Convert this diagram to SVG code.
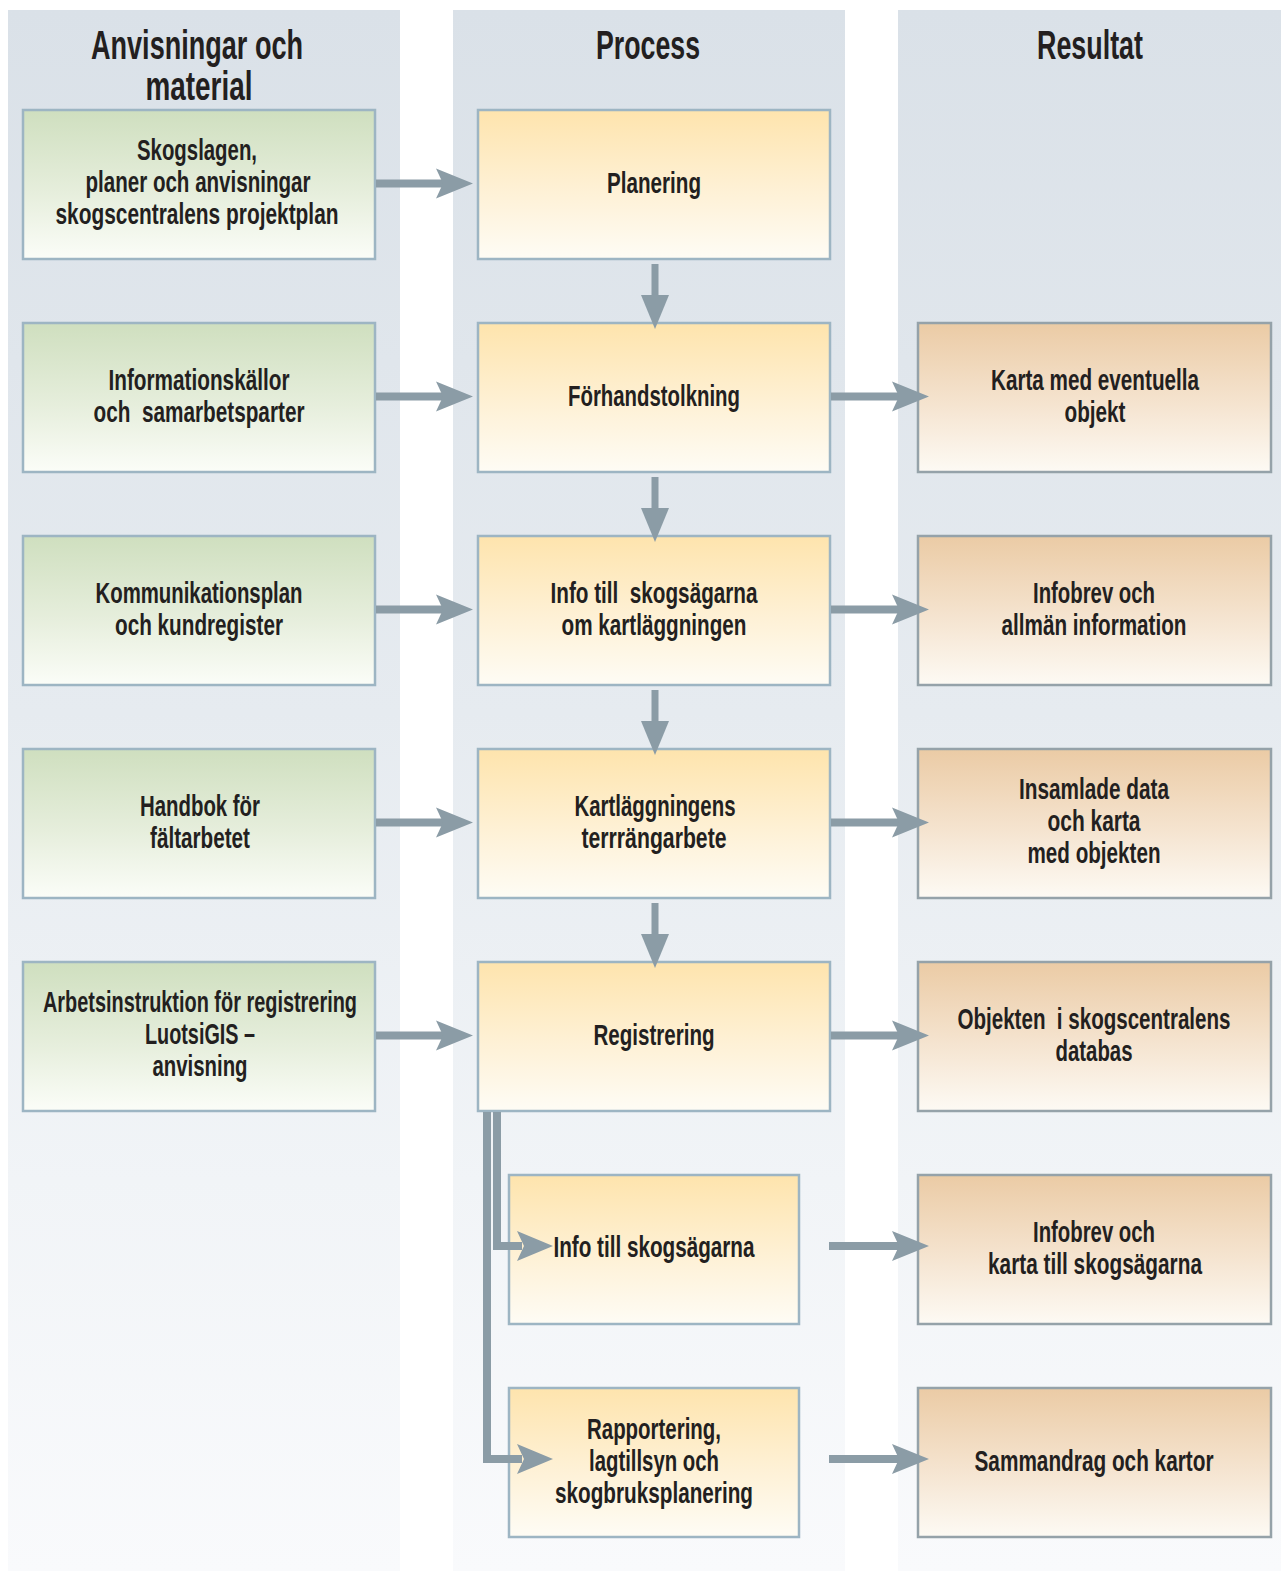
<svg xmlns="http://www.w3.org/2000/svg" width="1281" height="1571" viewBox="0 0 1281 1571">
<defs>
<linearGradient id="colbg" x1="0" y1="0" x2="0" y2="1">
<stop offset="0" stop-color="#dae1e8"/>
<stop offset="0.45" stop-color="#e6ebf0"/>
<stop offset="0.75" stop-color="#f1f4f7"/>
<stop offset="1" stop-color="#f9fafc"/>
</linearGradient>
<linearGradient id="gGreen" x1="0" y1="0" x2="0" y2="1">
<stop offset="0" stop-color="#cfdfbf"/>
<stop offset="0.55" stop-color="#e6eedc"/>
<stop offset="1" stop-color="#fbfdf8"/>
</linearGradient>
<linearGradient id="gYellow" x1="0" y1="0" x2="0" y2="1">
<stop offset="0" stop-color="#fee4ad"/>
<stop offset="0.55" stop-color="#fef1d6"/>
<stop offset="1" stop-color="#fefcf5"/>
</linearGradient>
<linearGradient id="gOrange" x1="0" y1="0" x2="0" y2="1">
<stop offset="0" stop-color="#ebcba5"/>
<stop offset="0.55" stop-color="#f5e4d0"/>
<stop offset="1" stop-color="#fdfaf4"/>
</linearGradient>
</defs>
<style>
.col{fill:url(#colbg)}
.green{fill:url(#gGreen);stroke:#9db5c3;stroke-width:2.5}
.proc{fill:url(#gYellow);stroke:#9db5c3;stroke-width:2.5}
.res{fill:url(#gOrange);stroke:#95a2a9;stroke-width:2.5}
.t{font-family:'Liberation Sans Narrow','Liberation Sans',Arial,sans-serif;font-weight:bold;font-size:30px;fill:#231f20;text-anchor:middle}
.h{font-family:'Liberation Sans Narrow','Liberation Sans',Arial,sans-serif;font-weight:bold;font-size:40px;fill:#231f20;text-anchor:middle}
.shaft{fill:none;stroke:#8b9ca6;stroke-width:8}
.head{fill:#8b9ca6}
</style>
<rect width="1281" height="1571" fill="#ffffff"/>
<g id="columns">
<rect class="col" x="8" y="10" width="392" height="1561"/>
<rect class="col" x="453" y="10" width="392" height="1561"/>
<rect class="col" x="898" y="10" width="383" height="1561"/>
</g>
<g id="headers">
<text class="h" x="197" y="59" textLength="212" lengthAdjust="spacingAndGlyphs">Anvisningar och</text>
<text class="h" x="199" y="100" textLength="107" lengthAdjust="spacingAndGlyphs">material</text>
<text class="h" x="648" y="59" textLength="104" lengthAdjust="spacingAndGlyphs">Process</text>
<text class="h" x="1090" y="59" textLength="106" lengthAdjust="spacingAndGlyphs">Resultat</text>
</g>
<g id="n-skogslagen">
<rect class="green" x="23" y="110" width="352" height="149"/>
<text class="t" x="197" y="160" textLength="120" lengthAdjust="spacingAndGlyphs">Skogslagen,</text>
<text class="t" x="198" y="192" textLength="225" lengthAdjust="spacingAndGlyphs">planer och anvisningar</text>
<text class="t" x="197" y="224" textLength="283" lengthAdjust="spacingAndGlyphs">skogscentralens projektplan</text>
</g>
<g id="n-planering">
<rect class="proc" x="478" y="110" width="352" height="149"/>
<text class="t" x="654" y="193" textLength="94" lengthAdjust="spacingAndGlyphs">Planering</text>
</g>
<g id="n-informationskallor">
<rect class="green" x="23" y="323" width="352" height="149"/>
<text class="t" x="199" y="390" textLength="181" lengthAdjust="spacingAndGlyphs">Informationskällor</text>
<text class="t" x="199" y="422" textLength="211" lengthAdjust="spacingAndGlyphs" xml:space="preserve">och  samarbetsparter</text>
</g>
<g id="n-forhandstolkning">
<rect class="proc" x="478" y="323" width="352" height="149"/>
<text class="t" x="654" y="406" textLength="172" lengthAdjust="spacingAndGlyphs">Förhandstolkning</text>
</g>
<g id="n-karta">
<rect class="res" x="918" y="323" width="353" height="149"/>
<text class="t" x="1095" y="390" textLength="208" lengthAdjust="spacingAndGlyphs">Karta med eventuella</text>
<text class="t" x="1095" y="422" textLength="61" lengthAdjust="spacingAndGlyphs">objekt</text>
</g>
<g id="n-kommunikationsplan">
<rect class="green" x="23" y="536" width="352" height="149"/>
<text class="t" x="199" y="603" textLength="207" lengthAdjust="spacingAndGlyphs">Kommunikationsplan</text>
<text class="t" x="199" y="635" textLength="168" lengthAdjust="spacingAndGlyphs">och kundregister</text>
</g>
<g id="n-info1">
<rect class="proc" x="478" y="536" width="352" height="149"/>
<text class="t" x="654" y="603" textLength="207" lengthAdjust="spacingAndGlyphs" xml:space="preserve">Info till  skogsägarna</text>
<text class="t" x="654" y="635" textLength="185" lengthAdjust="spacingAndGlyphs">om kartläggningen</text>
</g>
<g id="n-infobrev1">
<rect class="res" x="918" y="536" width="353" height="149"/>
<text class="t" x="1094" y="603" textLength="122" lengthAdjust="spacingAndGlyphs">Infobrev och</text>
<text class="t" x="1094" y="635" textLength="185" lengthAdjust="spacingAndGlyphs">allmän information</text>
</g>
<g id="n-handbok">
<rect class="green" x="23" y="749" width="352" height="149"/>
<text class="t" x="200" y="816" textLength="120" lengthAdjust="spacingAndGlyphs">Handbok för</text>
<text class="t" x="200" y="848" textLength="100" lengthAdjust="spacingAndGlyphs">fältarbetet</text>
</g>
<g id="n-kartlaggningens">
<rect class="proc" x="478" y="749" width="352" height="149"/>
<text class="t" x="655" y="816" textLength="161" lengthAdjust="spacingAndGlyphs">Kartläggningens</text>
<text class="t" x="654" y="848" textLength="145" lengthAdjust="spacingAndGlyphs">terrrängarbete</text>
</g>
<g id="n-insamlade">
<rect class="res" x="918" y="749" width="353" height="149"/>
<text class="t" x="1094" y="799" textLength="150" lengthAdjust="spacingAndGlyphs">Insamlade data</text>
<text class="t" x="1094" y="831" textLength="93" lengthAdjust="spacingAndGlyphs">och karta</text>
<text class="t" x="1094" y="863" textLength="133" lengthAdjust="spacingAndGlyphs">med objekten</text>
</g>
<g id="n-arbetsinstruktion">
<rect class="green" x="23" y="962" width="352" height="149"/>
<text class="t" x="200" y="1012" textLength="314" lengthAdjust="spacingAndGlyphs">Arbetsinstruktion för registrering</text>
<text class="t" x="200" y="1044" textLength="110" lengthAdjust="spacingAndGlyphs">LuotsiGIS –</text>
<text class="t" x="200" y="1076" textLength="95" lengthAdjust="spacingAndGlyphs">anvisning</text>
</g>
<g id="n-registrering">
<rect class="proc" x="478" y="962" width="352" height="149"/>
<text class="t" x="654" y="1045" textLength="121" lengthAdjust="spacingAndGlyphs">Registrering</text>
</g>
<g id="n-objekten">
<rect class="res" x="918" y="962" width="353" height="149"/>
<text class="t" x="1094" y="1029" textLength="273" lengthAdjust="spacingAndGlyphs" xml:space="preserve">Objekten  i skogscentralens</text>
<text class="t" x="1094" y="1061" textLength="77" lengthAdjust="spacingAndGlyphs">databas</text>
</g>
<g id="n-info2">
<rect class="proc" x="509" y="1175" width="290" height="149"/>
<text class="t" x="654" y="1257" textLength="201" lengthAdjust="spacingAndGlyphs">Info till skogsägarna</text>
</g>
<g id="n-infobrev2">
<rect class="res" x="918" y="1175" width="353" height="149"/>
<text class="t" x="1094" y="1242" textLength="122" lengthAdjust="spacingAndGlyphs">Infobrev och</text>
<text class="t" x="1095" y="1274" textLength="214" lengthAdjust="spacingAndGlyphs">karta till skogsägarna</text>
</g>
<g id="n-rapportering">
<rect class="proc" x="509" y="1388" width="290" height="149"/>
<text class="t" x="654" y="1439" textLength="134" lengthAdjust="spacingAndGlyphs">Rapportering,</text>
<text class="t" x="654" y="1471" textLength="130" lengthAdjust="spacingAndGlyphs">lagtillsyn och</text>
<text class="t" x="654" y="1503" textLength="198" lengthAdjust="spacingAndGlyphs">skogbruksplanering</text>
</g>
<g id="n-sammandrag">
<rect class="res" x="918" y="1388" width="353" height="149"/>
<text class="t" x="1094" y="1471" textLength="239" lengthAdjust="spacingAndGlyphs">Sammandrag och kartor</text>
</g>
<g id="connectors">
<path class="shaft" d="M376 183.5H444M376 396.5H444M376 609.5H444M376 822.5H444M376 1035.5H444"/>
<polygon class="head" points="436,168.5 473,183.5 436,198.5 443,183.5"/>
<polygon class="head" points="436,381.5 473,396.5 436,411.5 443,396.5"/>
<polygon class="head" points="436,594.5 473,609.5 436,624.5 443,609.5"/>
<polygon class="head" points="436,807.5 473,822.5 436,837.5 443,822.5"/>
<polygon class="head" points="436,1020.5 473,1035.5 436,1050.5 443,1035.5"/>
<path class="shaft" d="M831 396.5H899M831 609.5H899M831 822.5H899M831 1035.5H899M829 1246H899M829 1459H899"/>
<polygon class="head" points="892,381.5 929,396.5 892,411.5 899,396.5"/>
<polygon class="head" points="892,594.5 929,609.5 892,624.5 899,609.5"/>
<polygon class="head" points="892,807.5 929,822.5 892,837.5 899,822.5"/>
<polygon class="head" points="892,1020.5 929,1035.5 892,1050.5 899,1035.5"/>
<polygon class="head" points="892,1231 929,1246 892,1261 899,1246"/>
<polygon class="head" points="892,1444 929,1459 892,1474 899,1459"/>
<path class="shaft" style="stroke-width:7" d="M655 264V300M655 477V513M655 690V726M655 903V939"/>
<polygon class="head" points="641,295 669,295 655,329"/>
<polygon class="head" points="641,508 669,508 655,542"/>
<polygon class="head" points="641,721 669,721 655,755"/>
<polygon class="head" points="641,934 669,934 655,968"/>
<path class="shaft" d="M487 1112V1459H522"/>
<path class="shaft" d="M497 1112V1246H522"/>
<polygon class="head" points="517,1231 553,1246 517,1261 524,1246"/>
<polygon class="head" points="517,1444 553,1459 517,1474 524,1459"/>
</g>
</svg>
